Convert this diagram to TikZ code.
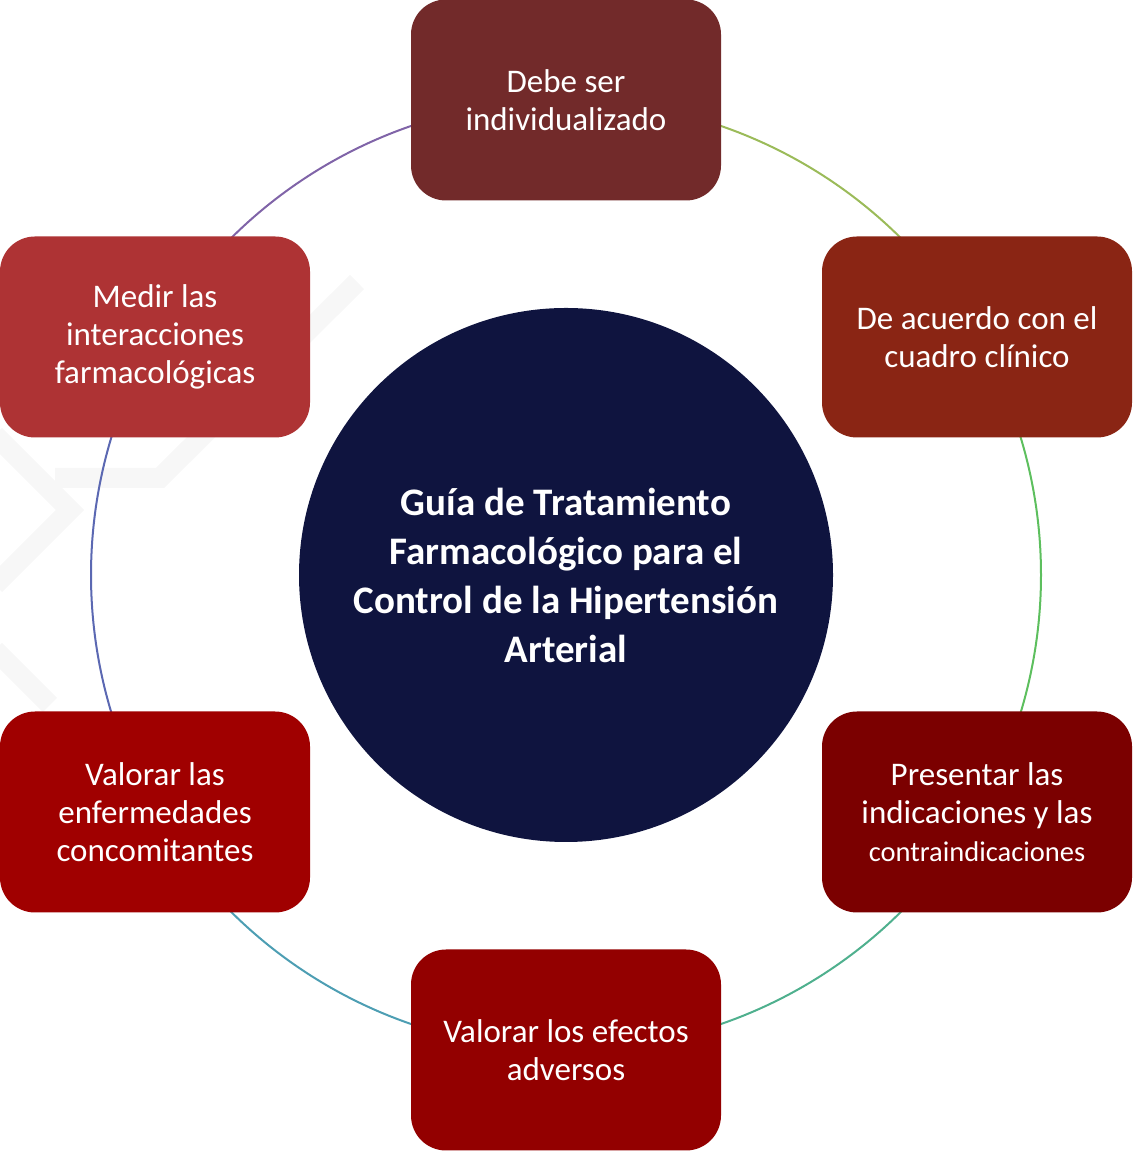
\documentclass[tikz,border=0pt]{standalone}
\usepackage{fontspec}
\setmainfont{Carlito}
\definecolor{cTop}{HTML}{722A2A}
\definecolor{cRT}{HTML}{8A2514}
\definecolor{cRB}{HTML}{7B0000}
\definecolor{cBot}{HTML}{930000}
\definecolor{cLB}{HTML}{A00000}
\definecolor{cLT}{HTML}{AE3334}
\definecolor{cCirc}{HTML}{0F143F}
\definecolor{aA}{HTML}{9BBB59}
\definecolor{aB}{HTML}{5DBF5E}
\definecolor{aC}{HTML}{4FB08E}
\definecolor{aD}{HTML}{4D9EB3}
\definecolor{aE}{HTML}{5B68B2}
\definecolor{aF}{HTML}{8064A8}
\definecolor{wm}{HTML}{F7F7F7}
\begin{document}
\begin{tikzpicture}[x=1pt,y=1pt,
  box/.style={rectangle, rounded corners=35pt, minimum width=310pt, minimum height=201pt,
    inner sep=0pt, align=center, text=white, font=\fontsize{33}{38}\selectfont},
  ringline/.style={line width=2pt},
  hub/.style={circle, fill=cCirc, minimum size=534pt, inner sep=0pt, align=center,
    text=white, font=\fontsize{39}{49}\selectfont\bfseries}]
\useasboundingbox (0,0) rectangle (1133,1153);
% faint watermark
\begin{scope}
\clip (0,0) rectangle (1133,1153);
\draw[wm, line width=20pt] (357,871) -- (160,675) -- (55,675);
\draw[wm, line width=20pt] (-5,718) -- (70,643) -- (-5,568);
\draw[wm, line width=20pt] (-5,503) -- (50,448);
\end{scope}
\coordinate (ring) at (566,578);
% ring arcs
\draw[ringline, aA] ([shift={(90:475)}]ring) arc[start angle=90, end angle=30, radius=475];
\draw[ringline, aB] ([shift={(30:475)}]ring) arc[start angle=30, end angle=-30, radius=475];
\draw[ringline, aC] ([shift={(-30:475)}]ring) arc[start angle=-30, end angle=-90, radius=475];
\draw[ringline, aD] ([shift={(-90:475)}]ring) arc[start angle=-90, end angle=-150, radius=475];
\draw[ringline, aE] ([shift={(-150:475)}]ring) arc[start angle=-150, end angle=-210, radius=475];
\draw[ringline, aF] ([shift={(150:475)}]ring) arc[start angle=150, end angle=90, radius=475];
% hub
\node[hub] (hub) at (ring) {Guía de Tratamiento\\Farmacológico para el\\Control de la Hipertensión\\Arterial};
% boxes
\node[box, fill=cTop] (top) at (566,1053) {Debe ser\\individualizado};
\node[box, fill=cRT] (rt) at (977,816) {De acuerdo con el\\cuadro clínico};
\node[box, fill=cRB] (rb) at (977,341) {Presentar las\\indicaciones y las\\{\fontsize{28.5}{34}\selectfont contraindicaciones}};
\node[box, fill=cBot] (bot) at (566,103) {Valorar los efectos\\adversos};
\node[box, fill=cLB] (lb) at (155,341) {Valorar las\\enfermedades\\concomitantes};
\node[box, fill=cLT] (lt) at (155,816) {Medir las\\interacciones\\farmacológicas};
\end{tikzpicture}
\end{document}
